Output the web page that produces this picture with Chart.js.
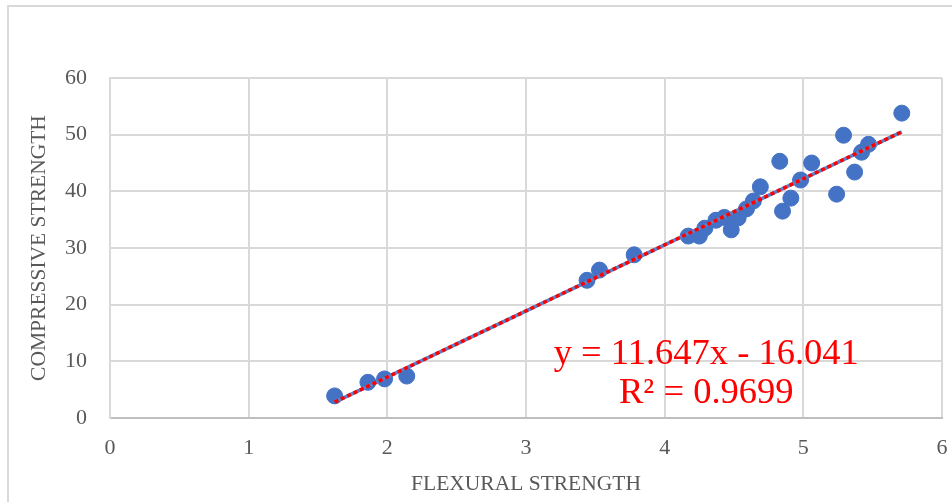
<!DOCTYPE html>
<html>
<head>
<meta charset="utf-8">
<script src="https://cdn.jsdelivr.net/npm/chart.js@4.4.0/dist/chart.umd.min.js"></script>
<style>
  html, body { margin: 0; padding: 0; background: #fff; }
  #wrap { position: relative; width: 952px; height: 502px; overflow: hidden; }
  #frame { position: absolute; left: 7px; top: 5px; width: 960px; height: 520px; border: 2px solid #d9d9d9; box-sizing: border-box; }
  canvas { position: absolute; left: 0; top: 0; }
</style>
</head>
<body>
<div id="wrap">
  <div id="frame"></div>
  <canvas id="chart" width="952" height="502"></canvas>
</div>
<script>
// measured samples: flexural vs compressive strength
const flexural = [1.62, 1.86, 1.98, 2.14, 3.44, 3.53, 3.78, 4.17, 4.25, 4.29, 4.37, 4.43, 4.48, 4.53,
                  4.59, 4.64, 4.69, 4.83, 4.85, 4.91, 4.98, 5.06, 5.24, 5.29, 5.37, 5.42, 5.47, 5.71];
const compressive = [3.9, 6.3, 6.9, 7.4, 24.3, 26.1, 28.8, 32.1, 32.1, 33.5, 34.9, 35.4, 33.2, 35.3,
                     36.9, 38.3, 40.8, 45.3, 36.5, 38.8, 42.0, 45.0, 39.5, 49.9, 43.4, 46.9, 48.3, 53.8];

// linear trendline ends
const trendX = [1.62, 5.71];
const trendY = [2.8, 50.5];
const equationLines = ['y = 11.647x - 16.041', 'R\u00b2 = 0.9699'];

const xTicks = [0, 1, 2, 3, 4, 5, 6];
const yTicks = [0, 10, 20, 30, 40, 50, 60];

const points = flexural.map((x, i) => ({ x: x, y: compressive[i] }));
const trend = trendX.map((x, i) => ({ x: x, y: trendY[i] }));

const grey = '#595959';
const gridColor = '#d9d9d9';
const serif = '"Liberation Serif", "Times New Roman", serif';

const equationLabel = {
  id: 'equationLabel',
  afterDatasetsDraw(chart) {
    const { ctx, scales } = chart;
    const cx = scales.x.getPixelForValue(4.3);
    ctx.save();
    ctx.fillStyle = '#ff0000';
    ctx.font = '36.5px ' + serif;
    ctx.textAlign = 'center';
    ctx.textBaseline = 'alphabetic';
    ctx.fillText(equationLines[0], cx, scales.y.getPixelForValue(9.6));
    ctx.fillText(equationLines[1], cx, scales.y.getPixelForValue(2.6));
    ctx.restore();
  }
};

new Chart(document.getElementById('chart'), {
  type: 'scatter',
  data: {
    datasets: [
      {
        type: 'line',
        data: trend,
        borderColor: '#ff0000',
        borderWidth: 3.5,
        borderDash: [4, 3],
        pointRadius: 0,
        fill: false,
        order: 0
      },
      {
        type: 'line',
        data: trend,
        borderColor: '#5b7fc8',
        borderWidth: 3.5,
        pointRadius: 0,
        fill: false,
        order: 1
      },
      {
        data: points,
        backgroundColor: '#4472c4',
        borderColor: '#4472c4',
        borderWidth: 1,
        pointRadius: 8,
        pointHoverRadius: 8,
        order: 2
      }
    ]
  },
  options: {
    responsive: false,
    animation: false,
    events: [],
    layout: { padding: { left: 0, top: 78, right: 10, bottom: 0 } },
    plugins: {
      legend: { display: false },
      tooltip: { enabled: false }
    },
    scales: {
      x: {
        type: 'linear',
        min: 0,
        max: 6,
        afterFit(scale) { scale.height = 84; scale.paddingLeft = 0; scale.paddingRight = 0; },
        afterBuildTicks(scale) { scale.ticks = xTicks.map(v => ({ value: v })); },
        grid: { color: gridColor, lineWidth: 2, drawTicks: false },
        border: { color: '#bfbfbf', width: 2 },
        ticks: {
          color: grey,
          padding: 17,
          font: { family: serif, size: 22 }
        },
        title: {
          display: true,
          text: 'FLEXURAL STRENGTH',
          color: grey,
          padding: { top: 0, bottom: 5 },
          font: { family: serif, size: 21.5 }
        }
      },
      y: {
        type: 'linear',
        min: 0,
        max: 60,
        afterFit(scale) { scale.width = 110; scale.paddingTop = 0; scale.paddingBottom = 0; },
        afterBuildTicks(scale) { scale.ticks = yTicks.map(v => ({ value: v })); },
        grid: { color: gridColor, lineWidth: 2, drawTicks: false },
        border: { color: gridColor, width: 2 },
        ticks: {
          color: grey,
          padding: 23,
          font: { family: serif, size: 22 }
        },
        title: {
          display: true,
          text: 'COMPRESSIVE STRENGTH',
          color: grey,
          padding: { top: 26, bottom: 0 },
          font: { family: serif, size: 21.5 }
        }
      }
    }
  },
  plugins: [equationLabel]
});
</script>
</body>
</html>
